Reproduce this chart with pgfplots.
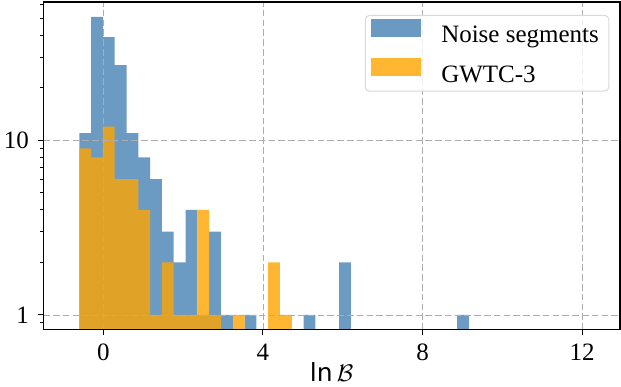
\documentclass[border=0pt]{standalone}
\usepackage{fontspec}
\setmainfont{Liberation Serif}
\newfontfamily\dejavu{DejaVu Sans}
\usepackage{pgfplots}
\pgfplotsset{compat=1.18}
\definecolor{nblue}{HTML}{4682B4}
\definecolor{gorange}{HTML}{FFA500}
\begin{document}
\fontsize{12.5}{15}\selectfont
\begin{tikzpicture}
\begin{axis}[
 scale only axis, width=288.5pt, height=164pt,
 ymode=log, log origin=infty,
 xmin=-1.506, xmax=12.95, ymin=0.8216, ymax=62.09,
 xtick={0,4,8,12}, ytick={1,10}, yticklabels={1,10},
 minor ytick={0.9,2,3,4,5,6,7,8,9,20,30,40,50,60},
 tick align=outside, tick pos=left,
 major tick length=2.8pt, minor tick length=1.7pt,
 every tick/.style={black, line width=0.45pt},
 grid=major, grid style={black!32, dash pattern=on 3.3pt off 1.6pt, line width=0.4pt},
 axis line style={line width=0.6pt},
 axis on top,
 /pgf/number format/assume math mode=true,
 xlabel={{\dejavu ln}\,$\mathcal{B}$},
 xlabel style={at={(axis description cs:0.5,0)}, anchor=north, yshift=-16pt, inner sep=0pt},
 legend style={at={(1,1)}, anchor=north east, xshift=-5.35pt, yshift=-6.5pt,
   draw=black!15, line width=0.5pt, rounded corners=2pt, fill=white, fill opacity=0.8, text opacity=1,
   inner xsep=3pt, inner ysep=1.8pt, row sep=5pt,
   nodes={inner ysep=0pt, inner xsep=2pt, text height=8.9pt, text depth=2.7pt}},
 legend cell align=left,
 /tikz/every odd column/.style={column sep=8pt},
]
\addplot[ybar, bar width=0.2959, bar shift=0pt, fill=nblue, fill opacity=0.8, draw=none,
  legend image code/.code={\fill[nblue, fill opacity=0.8, sharp corners] (0pt,0pt) rectangle (25pt,8.8pt);}]
coordinates {
(-0.4551,11) (-0.1592,51) (0.1367,39) (0.4326,27) (0.7285,11) (1.0244,8)
(1.3203,6) (1.6162,3) (1.9121,2) (2.2080,4) (2.5039,1) (2.7998,3)
(3.0957,1) (3.6875,1) (5.1670,1) (6.0547,2) (9.0137,1)
};
\addlegendentry{Noise segments}
\addplot[ybar, bar width=0.2959, bar shift=0pt, fill=gorange, fill opacity=0.8, draw=none,
  legend image code/.code={\fill[gorange, fill opacity=0.8, sharp corners] (0pt,0pt) rectangle (25pt,8.8pt);}]
coordinates {
(-0.4551,9) (-0.1592,8) (0.1367,12) (0.4326,6) (0.7285,6) (1.0244,4)
(1.3203,1) (1.6162,2) (1.9121,1) (2.2080,1) (2.5039,4) (2.7998,1)
(3.3916,1) (4.2793,2) (4.5752,1)
};
\addlegendentry{GWTC-3}
\end{axis}
\path (current axis.south west) ++(-21.65pt,-28.5pt) coordinate (bbA);
\path (current axis.north east) ++(0.5pt,1pt) coordinate (bbB);
\pgfresetboundingbox
\useasboundingbox (bbA) rectangle (bbB);
\end{tikzpicture}
\end{document}
